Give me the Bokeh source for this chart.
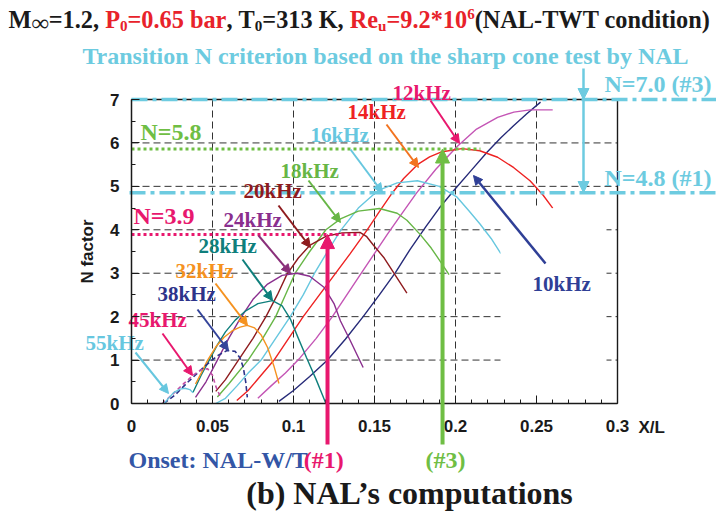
from bokeh.plotting import figure
from bokeh.models import Range1d, FixedTicker, Arrow, NormalHead
from bokeh.core.properties import value
from bokeh.embed import file_html
from bokeh.resources import INLINE

# ---------------- data ----------------
x_ticks = [0, 0.05, 0.1, 0.15, 0.2, 0.25, 0.3]
x_tick_labels = ["0", "0.05", "0.1", "0.15", "0.2", "0.25", "0.3"]
x_minor = [round(0.01 * i, 2) for i in range(31)]
y_ticks = [0, 1, 2, 3, 4, 5, 6, 7]
y_minor = [0.5 * i for i in range(15)]
x_grid = [0.05, 0.1, 0.15, 0.2, 0.25]
y_grid = [1, 2, 3, 4, 5, 6]

x_10 = [0.091, 0.100, 0.110, 0.121, 0.132, 0.143, 0.153, 0.163, 0.172, 0.1815, 0.190, 0.200, 0.210, 0.2196, 0.228, 0.236, 0.244, 0.2525]
n_10 = [0.05, 0.30, 0.62, 1.00, 1.48, 2.00, 2.50, 3.02, 3.55, 4.06, 4.50, 4.95, 5.38, 5.79, 6.12, 6.40, 6.67, 6.94]
x_12 = [0.078, 0.086, 0.095, 0.104, 0.114, 0.124, 0.132, 0.140, 0.149, 0.158, 0.167, 0.176, 0.188, 0.201, 0.213, 0.226, 0.236, 0.246, 0.260]
n_12 = [0.12, 0.40, 0.70, 1.05, 1.50, 2.00, 2.45, 2.90, 3.40, 3.90, 4.38, 4.85, 5.40, 5.92, 6.32, 6.59, 6.71, 6.76, 6.76]
x_14 = [0.065, 0.072, 0.080, 0.088, 0.097, 0.106, 0.116, 0.125, 0.135, 0.1455, 0.153, 0.160, 0.168, 0.1765, 0.184, 0.191, 0.204, 0.215, 0.226, 0.236, 0.246, 0.254, 0.260]
n_14 = [0.07, 0.30, 0.65, 1.00, 1.50, 2.00, 2.50, 2.95, 3.45, 4.00, 4.42, 4.80, 5.18, 5.50, 5.68, 5.79, 5.87, 5.82, 5.67, 5.43, 5.13, 4.80, 4.50]
x_16 = [0.052, 0.058, 0.065, 0.072, 0.080, 0.089, 0.098, 0.106, 0.113, 0.121, 0.129, 0.140, 0.152, 0.164, 0.1765, 0.190, 0.201, 0.208, 0.215, 0.222, 0.228]
n_16 = [0.00, 0.12, 0.40, 0.70, 1.00, 1.50, 2.00, 2.50, 3.00, 3.50, 3.98, 4.50, 4.90, 5.08, 5.13, 5.00, 4.75, 4.45, 4.14, 3.80, 3.45]
x_18 = [0.053, 0.060, 0.072, 0.081, 0.089, 0.095, 0.101, 0.110, 0.120, 0.129, 0.140, 0.153, 0.164, 0.170, 0.178, 0.185, 0.191, 0.196]
n_18 = [0.15, 0.45, 1.00, 1.50, 2.00, 2.50, 3.00, 3.50, 4.00, 4.25, 4.43, 4.49, 4.38, 4.22, 3.90, 3.58, 3.25, 2.97]
x_20 = [0.052, 0.058, 0.066, 0.075, 0.083, 0.090, 0.096, 0.103, 0.110, 0.120, 0.130, 0.141, 0.145, 0.149, 0.156, 0.162, 0.170]
n_20 = [0.28, 0.55, 1.00, 1.50, 2.00, 2.50, 2.98, 3.35, 3.64, 3.85, 3.93, 3.94, 3.85, 3.66, 3.35, 3.00, 2.54]
x_24 = [0.0395, 0.046, 0.053, 0.060, 0.067, 0.075, 0.084, 0.093, 0.102, 0.110, 0.119, 0.125, 0.129, 0.135, 0.143]
n_24 = [0.14, 0.50, 1.00, 1.50, 1.95, 2.40, 2.75, 2.95, 3.00, 2.93, 2.67, 2.30, 1.90, 1.45, 0.83]
x_28 = [0.038, 0.043, 0.048, 0.053, 0.058, 0.064, 0.070, 0.078, 0.087, 0.093, 0.098, 0.103, 0.108, 0.114, 0.120]
n_28 = [0.26, 0.65, 1.00, 1.35, 1.65, 1.92, 2.12, 2.30, 2.37, 2.25, 1.95, 1.50, 1.06, 0.55, 0.00]
x_32 = [0.0395, 0.043, 0.047, 0.052, 0.057, 0.062, 0.067, 0.0714, 0.076, 0.080, 0.084, 0.088, 0.091]
n_32 = [0.45, 0.70, 1.00, 1.30, 1.52, 1.67, 1.76, 1.80, 1.74, 1.58, 1.29, 0.85, 0.46]
x_38 = [0.020, 0.027, 0.035, 0.045, 0.053, 0.059, 0.064, 0.067, 0.069, 0.0705, 0.0715]
n_38 = [0.00, 0.20, 0.50, 0.85, 1.10, 1.22, 1.20, 1.05, 0.83, 0.50, 0.14]
x_45 = [0.019, 0.025, 0.032, 0.038, 0.043, 0.047, 0.050, 0.052, 0.055]
n_45 = [0.00, 0.20, 0.45, 0.65, 0.78, 0.80, 0.65, 0.40, 0.14]
x_55 = [0.020, 0.026, 0.030, 0.033, 0.036, 0.038]
n_55 = [0.00, 0.25, 0.33, 0.35, 0.32, 0.25]

criterion_N = [7.0, 4.85]            # dash-dot lines (#3, #1)
criterion_labels = ["N=7.0 (#3)", "N=4.8 (#1)"]
onset_N = [5.86, 3.89]               # dotted onset levels (#3, #1)
onset_labels = ["N=5.8", "N=3.9"]
onset_x = [0.192, 0.121]             # X/L of onset (#3, #1)
onset_x_end = [0.2154, 0.141]

# ---------------- colours ----------------
K = "#1a1a1a"
RED = "#e8222a"
CYAN = "#6dcbe0"
GREEN = "#6fbe44"
PINK = "#e8186e"
C10, C10L = "#262a78", "#2f3f96"
C12 = "#c455b5"
C14, C14A = "#ee2222", "#f2731f"
C16 = "#67c7df"
C18 = "#67b646"
C20 = "#8e1b1e"
C24 = "#8a2f8e"
C28 = "#0f7f7c"
C32 = "#f5921f"
C38 = "#2d338a"
C45 = "#c24ea6"
ONSET = "#3356a6"

# ---------------- geometry (pixel placement of the axes box) ----------------
W, H = 716, 513
PX_X0, PX_X1 = 131.0, 617.0
PX_Y0, PX_Y1 = 403.0, 99.0
SX = (PX_X1 - PX_X0) / 0.3
SY = (PX_Y0 - PX_Y1) / 7.0


def dx(px):
    return (px - PX_X0) / SX


def dy(py):
    return (PX_Y0 - py) / SY


p = figure(width=W, height=H, x_range=Range1d(dx(0), dx(W)), y_range=Range1d(dy(H), dy(0)),
           output_backend="svg", toolbar_location=None, min_border=0)
p.outline_line_color = None
p.xgrid.visible = False
p.ygrid.visible = False
p.background_fill_color = "white"
p.border_fill_color = "white"

SANS = "Liberation Sans"
SERIF = "Liberation Serif"

xa = p.xaxis[0]
xa.fixed_location = 0
xa.bounds = (0, 0.3)
xa.ticker = FixedTicker(ticks=x_ticks, minor_ticks=x_minor)
xa.major_label_overrides = dict(zip(x_ticks, x_tick_labels))
ya = p.yaxis[0]
ya.fixed_location = 0
ya.bounds = (0, 7)
ya.ticker = FixedTicker(ticks=y_ticks, minor_ticks=y_minor)
ya.axis_label = "N factor"
ya.axis_label_text_font = SANS
ya.axis_label_text_font_style = "bold"
ya.axis_label_text_font_size = "17px"
ya.axis_label_text_color = K
ya.axis_label_standoff = 10
for ax in (xa, ya):
    ax.axis_line_color = K
    ax.axis_line_width = 1.5
    ax.major_tick_in = 8
    ax.major_tick_out = 0
    ax.minor_tick_in = 4
    ax.minor_tick_out = 0
    ax.major_tick_line_color = K
    ax.minor_tick_line_color = K
    ax.major_label_text_font = SANS
    ax.major_label_text_font_style = "bold"
    ax.major_label_text_font_size = "17px"
    ax.major_label_text_color = K
xa.major_label_standoff = 16
ya.major_label_standoff = 12

# grid
p.segment(x0=x_grid, y0=[0] * len(x_grid), x1=x_grid, y1=[7] * len(x_grid),
          line_color="#333333", line_width=1, line_dash="7 4")
p.segment(x0=[0] * len(y_grid), y0=y_grid, x1=[0.3] * len(y_grid), y1=y_grid,
          line_color="#333333", line_width=1, line_dash="7 4")
# frame top / right
p.line(x=[0, 0.3, 0.3], y=[7, 7, 0], line_color=K, line_width=1.4)

# curves
curves = [
    (x_10, n_10, C10, None), (x_12, n_12, C12, None), (x_14, n_14, C14, None),
    (x_16, n_16, C16, None), (x_18, n_18, C18, None), (x_20, n_20, C20, None),
    (x_24, n_24, C24, None), (x_28, n_28, C28, None), (x_32, n_32, C32, None),
    (x_38, n_38, C38, "5 3"), (x_45, n_45, C45, "4 3"), (x_55, n_55, C16, None),
]
for xs, ns, c, dash in curves:
    if dash:
        p.line(x=xs, y=ns, line_color=c, line_width=1.6, line_dash=dash)
    else:
        p.line(x=xs, y=ns, line_color=c, line_width=1.4)

# white patch behind the 10kHz label
p.quad(left=[dx(500)], right=[dx(606)], bottom=[0.02], top=[dy(208)],
       fill_color="white", line_color=None)

# criterion dash-dot lines
p.line(x=[0, dx(716)], y=[criterion_N[0]] * 2, line_color=CYAN, line_width=3.5, line_dash="16 5 4 5")
p.line(x=[dx(129), dx(716)], y=[criterion_N[1]] * 2, line_color=CYAN, line_width=3.5, line_dash="16 5 4 5")
# onset dotted lines
p.line(x=[0, onset_x_end[0]], y=[onset_N[0]] * 2, line_color=GREEN, line_width=3, line_dash="3 3")
p.line(x=[0, onset_x_end[1]], y=[onset_N[1]] * 2, line_color=PINK, line_width=3, line_dash="3 3")


def arrow(x0, y0, x1, y1, color, width=2, size=9):
    p.add_layout(Arrow(end=NormalHead(size=size, fill_color=color, line_color=color),
                       x_start=x0, y_start=y0, x_end=x1, y_end=y1,
                       line_color=color, line_width=width))


def parrow(px0, py0, px1, py1, color, width=2, size=9):
    arrow(dx(px0), dy(py0), dx(px1), dy(py1), color, width, size)


def txt(s, px, py, color, size, font=SERIF, style="bold", align="left"):
    # py is the vertical centre of the text
    p.text(x=[dx(px)], y=[dy(py)], text=[s], text_color=color, text_font=value(font),
           text_font_size=value(f"{size}px"), text_font_style=style,
           text_align=align, text_baseline="middle")


# vertical onset arrows
arrow(onset_x[1], dy(444), onset_x[1], onset_N[1], PINK, width=4, size=14)
arrow(onset_x[0], dy(444), onset_x[0], onset_N[0], GREEN, width=4, size=14)
# vertical criterion arrows
parrow(583, 68, 583, 99, CYAN, width=2.5, size=11)
parrow(583, 100, 583, 192, CYAN, width=2.5, size=11)

# frequency labels and pointer arrows
labels = [
    ("12kHz", 392, 92, PINK, (430, 100, 459, 143), PINK),
    ("14kHz", 347, 111, C14, (386, 124, 418, 167), C14A),
    ("16kHz", 310, 134, C16, (350, 149, 382, 192), C16),
    ("18kHz", 280, 170, C18, (308, 180, 340, 222), C18),
    ("20kHz", 243, 190, C20, (278, 205, 310, 247), C20),
    ("24kHz", 223, 219, C24, (258, 235, 290, 273), "#8a2f7a"),
    ("28kHz", 198, 245, C28, (242, 259, 272, 300), C28),
    ("32kHz", 175, 270, C32, (215, 283, 247, 325), C32),
    ("38kHz", 157, 293, C38, (197, 309, 228, 350), "#34449a"),
    ("45kHz", 128, 319, PINK, (162, 333, 192, 375), PINK),
    ("55kHz", 85, 342, C16, (135, 352, 168, 393), C16),
    ("10kHz", 532, 283, C10L, (545, 263, 473, 175), C10L),
]
for s, lx, ly, lc, (a0, a1, a2, a3), ac in labels:
    txt(s, lx, ly, lc, 21)
    parrow(a0, a1, a2, a3, ac, width=2.5 if s == "10kHz" else 2, size=9)

txt(onset_labels[0], 140, 131, GREEN, 24)
txt(onset_labels[1], 133, 215, PINK, 24)
txt(criterion_labels[0], 604, 83, CYAN, 24)
txt(criterion_labels[1], 604, 177, CYAN, 24)

# X/L
txt("X/L", 638, 427, K, 17, font=SANS)

# ---------------- title line 1 (Times-bold metrics) ----------------
TNRB = {" ": 250, "(": 333, ")": 333, "*": 500, ",": 250, "-": 333, ".": 250, "/": 278,
        "=": 570, "#": 500, ":": 333, "∞": 713,
        "0": 500, "1": 500, "2": 500, "3": 500, "4": 500, "5": 500, "6": 500, "7": 500, "8": 500, "9": 500,
        "A": 722, "K": 778, "L": 667, "M": 944, "N": 722, "P": 611, "R": 722, "T": 667, "W": 1000,
        "a": 500, "b": 556, "c": 444, "d": 556, "e": 444, "i": 278, "n": 556, "o": 500, "r": 444,
        "t": 333, "u": 556}


def tw(s, size):
    return sum(TNRB.get(ch, 500) for ch in s) * size / 1000.0


S1 = 24.3
pieces = [("M", K, "n"), ("∞", K, "inf"), ("=1.2, ", K, "n"), ("P", RED, "n"), ("0", RED, "sub"),
          ("=0.65 bar", RED, "n"), (", ", K, "n"), ("T", K, "n"), ("0", K, "sub"),
          ("=313 K, ", K, "n"), ("Re", RED, "n"), ("u", RED, "sub"), ("=9.2*10", RED, "n"),
          ("6", RED, "sup"), ("(NAL-TWT condition)", K, "n")]
cx = 8.0
mid1 = 19.0
for s, c, kind in pieces:
    if kind == "n":
        size, off = S1, 0
    elif kind == "inf":
        size, off = S1, 3
    elif kind == "sub":
        size, off = S1 * 0.62, 6
    else:
        size, off = S1 * 0.62, -6
    if s.strip():
        txt(s.rstrip(), cx, mid1 + off, c, round(size, 1))
    cx += tw(s, size)

# line 2
txt("Transition N criterion based on the sharp cone test by NAL", 385, 55, CYAN, 24, align="center")

# bottom texts
w_on = tw("Onset: NAL-W/T", 24)
txt("Onset: NAL-W/T", 128, 459, ONSET, 24)
txt("(#1)", 128 + w_on, 459, PINK, 24)
txt("(#3)", 425, 459, GREEN, 24)
txt("(b) NAL\u2019s computations", 409, 492, K, 32, align="center")

open("out.html", "w").write(file_html(p, INLINE))
